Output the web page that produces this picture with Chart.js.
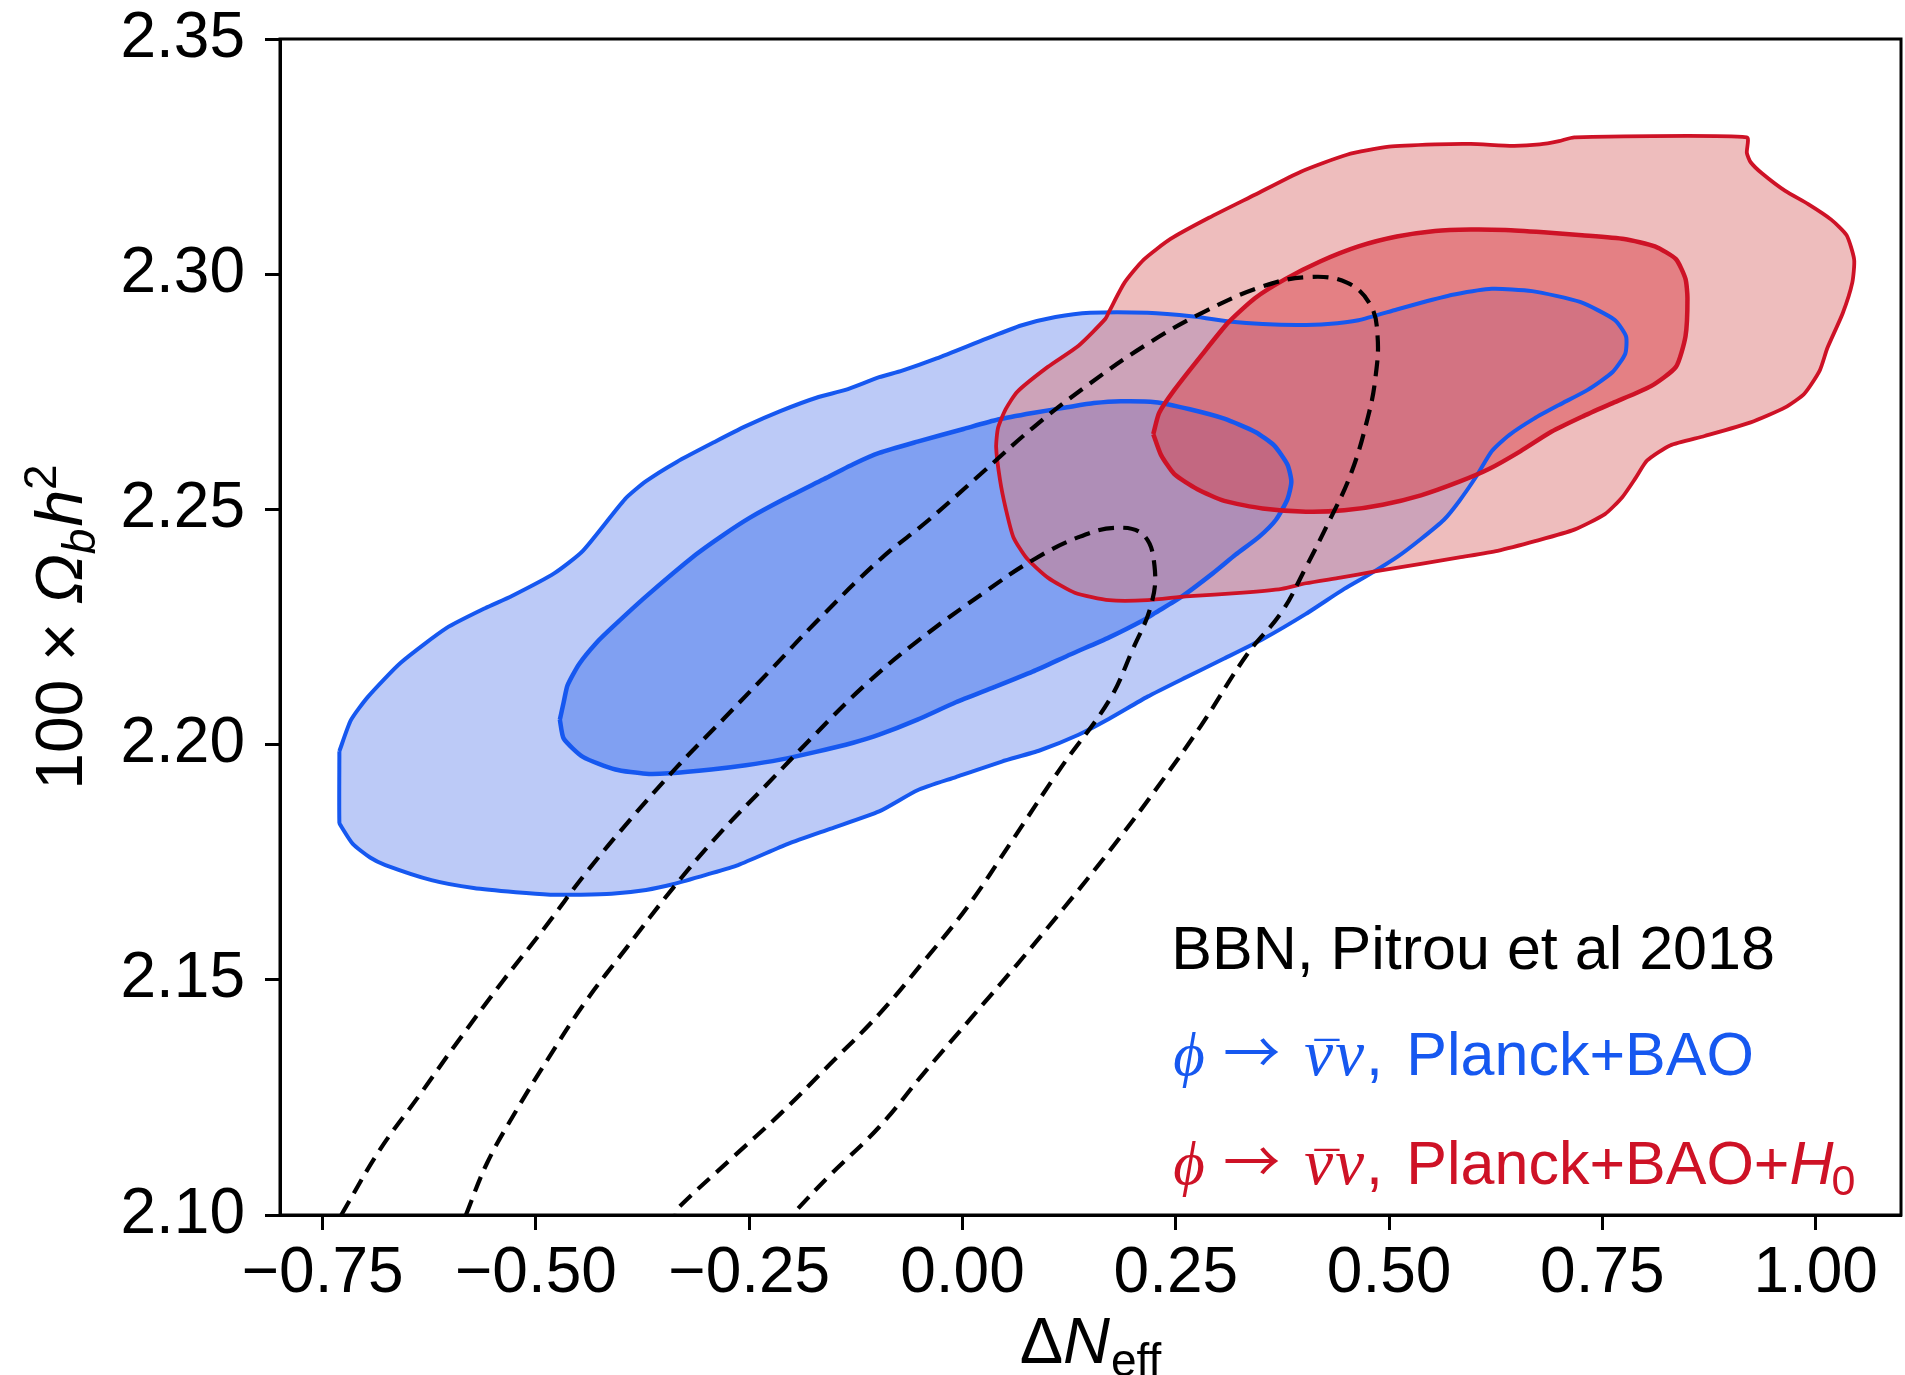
<!DOCTYPE html>
<html>
<head>
<meta charset="utf-8">
<script src="https://cdn.jsdelivr.net/npm/chart.js@4.4.1/dist/chart.umd.min.js"></script>
<style>
html,body{margin:0;padding:0;background:#fff;}
#wrap{width:1905px;height:1375px;position:relative;}
</style>
</head>
<body>
<div id="wrap"><canvas id="c" width="1905" height="1375"></canvas></div>
<script>
// ---- axis ticks ----
const xTicks = [-0.75, -0.50, -0.25, 0.00, 0.25, 0.50, 0.75, 1.00];
const yTicks = [2.10, 2.15, 2.20, 2.25, 2.30, 2.35];

// ---- Planck+BAO (blue) 68% / 95% contours ----
const blueOuter = [[-0.7304,2.1986],[-0.7169,2.2052],[-0.6967,2.2102],[-0.6585,2.2174],[-0.6046,2.2248],[-0.5596,2.2290],[-0.5282,2.2316],[-0.4787,2.2364],[-0.4450,2.2412],[-0.3956,2.2522],[-0.3709,2.2560],[-0.3349,2.2601],[-0.2900,2.2644],[-0.2540,2.2677],[-0.2136,2.2709],[-0.1687,2.2739],[-0.1372,2.2754],[-0.0976,2.2781],[-0.0707,2.2795],[-0.0303,2.2821],[0.0281,2.2863],[0.0686,2.2891],[0.1090,2.2909],[0.1495,2.2918],[0.2169,2.2918],[0.2708,2.2910],[0.3157,2.2899],[0.3517,2.2894],[0.3921,2.2892],[0.4281,2.2894],[0.4641,2.2902],[0.5090,2.2925],[0.5449,2.2943],[0.5764,2.2957],[0.6205,2.2969],[0.6676,2.2964],[0.7238,2.2941],[0.7643,2.2903],[0.7777,2.2868],[0.7768,2.2831],[0.7620,2.2792],[0.7328,2.2754],[0.6991,2.2722],[0.6699,2.2693],[0.6407,2.2658],[0.6205,2.2624],[0.6025,2.2571],[0.5823,2.2518],[0.5643,2.2478],[0.5373,2.2437],[0.5104,2.2400],[0.4789,2.2364],[0.4474,2.2331],[0.4025,2.2278],[0.3517,2.2224],[0.3067,2.2183],[0.2618,2.2143],[0.2169,2.2102],[0.1719,2.2055],[0.1360,2.2021],[0.0910,2.1988],[0.0461,2.1964],[-0.0078,2.1931],[-0.0528,2.1903],[-0.0977,2.1858],[-0.1552,2.1821],[-0.2046,2.1789],[-0.2630,2.1744],[-0.2990,2.1724],[-0.3394,2.1703],[-0.3709,2.1691],[-0.4113,2.1683],[-0.4473,2.1681],[-0.4832,2.1681],[-0.5237,2.1686],[-0.5731,2.1695],[-0.6225,2.1712],[-0.6765,2.1744],[-0.6944,2.1760],[-0.7147,2.1789],[-0.7282,2.1826],[-0.7304,2.1834]];
const blueInner = [[-0.4720,2.2053],[-0.4675,2.2090],[-0.4630,2.2126],[-0.4495,2.2171],[-0.4293,2.2216],[-0.4113,2.2248],[-0.3709,2.2315],[-0.3125,2.2404],[-0.2810,2.2445],[-0.2496,2.2482],[-0.2091,2.2522],[-0.1642,2.2563],[-0.1282,2.2596],[-0.0976,2.2620],[-0.0528,2.2644],[0.0012,2.2671],[0.0416,2.2691],[0.0821,2.2705],[0.1225,2.2717],[0.1540,2.2726],[0.1854,2.2730],[0.2259,2.2728],[0.2663,2.2713],[0.3068,2.2693],[0.3427,2.2665],[0.3652,2.2636],[0.3809,2.2595],[0.3854,2.2559],[0.3809,2.2522],[0.3674,2.2478],[0.3472,2.2441],[0.3202,2.2404],[0.2933,2.2364],[0.2573,2.2315],[0.2259,2.2280],[0.2124,2.2265],[0.1719,2.2228],[0.1270,2.2192],[0.0821,2.2155],[0.0371,2.2122],[-0.0078,2.2090],[-0.0528,2.2053],[-0.0977,2.2021],[-0.1282,2.2004],[-0.1731,2.1984],[-0.2136,2.1968],[-0.2540,2.1956],[-0.2945,2.1947],[-0.3439,2.1939],[-0.3709,2.1938],[-0.4068,2.1947],[-0.4450,2.1974],[-0.4675,2.2013]];

// ---- Planck+BAO+H0 (red) 68% / 95% contours ----
const redOuter = [[0.1719,2.2921],[0.1899,2.2982],[0.2124,2.3031],[0.2438,2.3075],[0.2888,2.3120],[0.3427,2.3169],[0.3966,2.3218],[0.4506,2.3254],[0.5000,2.3271],[0.5539,2.3276],[0.5957,2.3277],[0.6452,2.3273],[0.6766,2.3276],[0.6991,2.3283],[0.7171,2.3291],[0.9193,2.3291],[0.9193,2.3258],[0.9238,2.3238],[0.9373,2.3214],[0.9643,2.3177],[0.9912,2.3149],[1.0182,2.3116],[1.0362,2.3083],[1.0451,2.3031],[1.0429,2.2982],[1.0317,2.2917],[1.0137,2.2843],[1.0047,2.2795],[0.9867,2.2746],[0.9643,2.2717],[0.9238,2.2685],[0.8699,2.2656],[0.8294,2.2636],[0.8025,2.2604],[0.7890,2.2567],[0.7733,2.2526],[0.7530,2.2490],[0.7171,2.2457],[0.6721,2.2433],[0.6272,2.2412],[0.5823,2.2398],[0.5373,2.2384],[0.4834,2.2368],[0.4429,2.2355],[0.4025,2.2343],[0.3742,2.2331],[0.3292,2.2323],[0.2618,2.2315],[0.2169,2.2307],[0.1719,2.2307],[0.1315,2.2323],[0.1000,2.2355],[0.0753,2.2396],[0.0596,2.2441],[0.0506,2.2502],[0.0439,2.2563],[0.0394,2.2632],[0.0416,2.2673],[0.0506,2.2713],[0.0641,2.2750],[0.1000,2.2803],[0.1360,2.2848],[0.1674,2.2905]];
const redInner = [[0.2236,2.2660],[0.2304,2.2705],[0.2483,2.2754],[0.2798,2.2827],[0.3113,2.2897],[0.3427,2.2949],[0.3787,2.2990],[0.4191,2.3027],[0.4641,2.3059],[0.5090,2.3080],[0.5539,2.3092],[0.5957,2.3095],[0.6362,2.3094],[0.6811,2.3089],[0.7261,2.3083],[0.7755,2.3075],[0.8115,2.3059],[0.8362,2.3032],[0.8474,2.2990],[0.8497,2.2949],[0.8474,2.2868],[0.8362,2.2803],[0.8070,2.2762],[0.7620,2.2726],[0.7261,2.2697],[0.6901,2.2665],[0.6542,2.2624],[0.6182,2.2587],[0.5823,2.2559],[0.5373,2.2530],[0.4924,2.2510],[0.4474,2.2498],[0.4025,2.2495],[0.3517,2.2502],[0.3068,2.2518],[0.2753,2.2543],[0.2483,2.2575],[0.2326,2.2616]];

// ---- BBN (Pitrou et al 2018) dashed contours ----
const bbnOuter = [[-0.7282,2.1000],[-0.6832,2.1138],[-0.6360,2.1256],[-0.5911,2.1370],[-0.5394,2.1496],[-0.4900,2.1610],[-0.4428,2.1724],[-0.3888,2.1842],[-0.3349,2.1952],[-0.2788,2.2057],[-0.2226,2.2163],[-0.1731,2.2258],[-0.0976,2.2392],[-0.0393,2.2478],[0.0236,2.2579],[0.0821,2.2673],[0.1450,2.2762],[0.2169,2.2852],[0.2843,2.2921],[0.3517,2.2974],[0.4056,2.2994],[0.4506,2.2982],[0.4780,2.2935],[0.4865,2.2868],[0.4840,2.2780],[0.4753,2.2697],[0.4551,2.2575],[0.4281,2.2469],[0.4011,2.2372],[0.3742,2.2282],[0.3337,2.2192],[0.2798,2.2041],[0.2259,2.1903],[0.1719,2.1773],[0.1180,2.1651],[0.0641,2.1533],[0.0102,2.1419],[-0.0438,2.1305],[-0.0977,2.1187],[-0.1552,2.1085],[-0.2001,2.1000]];
const bbnInner = [[-0.5821,2.1000],[-0.5574,2.1110],[-0.5237,2.1220],[-0.4855,2.1333],[-0.4428,2.1451],[-0.3934,2.1569],[-0.3394,2.1695],[-0.2877,2.1805],[-0.2316,2.1911],[-0.1731,2.2021],[-0.1147,2.2126],[-0.0528,2.2220],[0.0281,2.2327],[0.0821,2.2392],[0.1360,2.2441],[0.1809,2.2461],[0.2124,2.2445],[0.2250,2.2380],[0.2214,2.2299],[0.1989,2.2200],[0.1719,2.2094],[0.1150,2.1950],[0.0560,2.1790],[0.0057,2.1655],[-0.0483,2.1533],[-0.0977,2.1427],[-0.1552,2.1321],[-0.2136,2.1215],[-0.2720,2.1118],[-0.3349,2.1012],[-0.3365,2.1000]];

// ---- styling ----
const BLUE = 'rgb(22,88,240)';
const RED = 'rgb(206,18,38)';
const SANS = '"Liberation Sans", Arial, Helvetica, sans-serif';
const SERIF = '"Liberation Serif", "DejaVu Serif", serif';

const pts = (arr, close) => {
  const d = arr.map(p => ({x: p[0], y: p[1]}));
  if (close) d.push({x: arr[0][0], y: arr[0][1]});
  return d;
};
const fillDs = (arr, color, order) => ({
  data: pts(arr, true), borderWidth: 0, borderColor: 'rgba(0,0,0,0)',
  backgroundColor: color, fill: 'shape', pointRadius: 0, pointHoverRadius: 0,
  tension: 0.2, order
});
const lineDs = (arr, color, width, order, dash, close) => ({
  data: pts(arr, close), borderWidth: width, borderColor: color,
  backgroundColor: 'rgba(0,0,0,0)', fill: false, pointRadius: 0, pointHoverRadius: 0,
  borderDash: dash || [], tension: dash ? 0.4 : 0.2, borderCapStyle: 'butt', borderJoinStyle: 'round', order
});

const fmt = v => (v < 0 ? '\u2212' : '') + Math.abs(v).toFixed(2);

function runsWidth(ctx, runs) {
  let w = 0;
  for (const r of runs) { ctx.font = r.font; w += ctx.measureText(r.t).width + (r.gap || 0); }
  return w;
}
function drawSeq(ctx, x, y, runs) {
  let cx = x;
  for (const r of runs) {
    ctx.font = r.font; ctx.fillStyle = r.color;
    ctx.fillText(r.t, cx, y + (r.dy || 0));
    cx += ctx.measureText(r.t).width + (r.gap || 0);
  }
  return cx;
}
// phi -> nubar nu, <text>
function drawLabel(ctx, x, y, color, text, f) {
  const it = 'italic ' + f + 'px ' + SERIF;
  const itNu = 'italic ' + (f + 4) + 'px ' + SERIF;
  ctx.fillStyle = color;
  ctx.font = it;
  ctx.fillText('\u03D5', x + 2, y);
  ctx.font = '57px "Noto Sans CJK JP", "DejaVu Sans", sans-serif';
  ctx.fillText('\u2192', x + 52, y - 2);
  ctx.font = itNu;
  const nuX = x + 133;
  ctx.fillText('\u03BD', nuX, y);
  const wn = ctx.measureText('\u03BD').width;
  ctx.font = 'italic ' + Math.round(f * 0.8) + 'px ' + SERIF;
  ctx.fillText('\u00AF', nuX + wn * 0.22, y + f * 0.02);
  ctx.font = itNu;
  ctx.fillText('\u03BD', nuX + wn + 2, y);
  ctx.font = f + 'px ' + SANS;
  ctx.fillText(',', nuX + 2 * wn + 4, y);
  return drawSeq(ctx, x + 235, y, [{t: text, font: f + 'px ' + SANS, color}]);
}

const textPlugin = {
  id: 'texts',
  afterDraw(chart) {
    const ctx = chart.ctx;
    const {left, right, top, bottom} = chart.chartArea;
    const sx = chart.scales.x, sy = chart.scales.y;
    ctx.save();
    ctx.strokeStyle = '#000'; ctx.lineWidth = 3;
    ctx.strokeRect(left, top, right - left, bottom - top);
    ctx.textBaseline = 'alphabetic'; ctx.textAlign = 'left';

    const f = 61;
    const lx = sx.getPixelForValue(0.2447);
    drawSeq(ctx, lx, sy.getPixelForValue(2.1523), [{t: 'BBN, Pitrou et al 2018', font: f + 'px ' + SANS, color: '#000'}]);
    drawLabel(ctx, lx, sy.getPixelForValue(2.1298), BLUE, 'Planck+BAO', f);
    const yR = sy.getPixelForValue(2.1065);
    const endR = drawLabel(ctx, lx, yR, RED, 'Planck+BAO+', f);
    drawSeq(ctx, endR, yR, [
      {t: 'H', font: 'italic ' + f + 'px ' + SANS, color: RED, gap: -2},
      {t: '0', font: Math.round(f * 0.7) + 'px ' + SANS, color: RED, dy: 11}
    ]);

    // x axis title
    const xr = [
      {t: '\u0394', font: '65px ' + SANS, color: '#000'},
      {t: 'N', font: 'italic 65px ' + SANS, color: '#000', gap: 1},
      {t: 'eff', font: '46px ' + SANS, color: '#000', dy: 13}
    ];
    const xw = runsWidth(ctx, xr);
    drawSeq(ctx, (left + right) / 2 - xw / 2, 1363, xr);

    // y axis title (rotated)
    const yr = [
      {t: '100 \u00D7 ', font: '66px ' + SANS, color: '#000'},
      {t: '\u03A9', font: 'italic 66px ' + SANS, color: '#000'},
      {t: 'b', font: 'italic 46px ' + SANS, color: '#000', dy: 13, gap: 2},
      {t: 'h', font: 'italic 66px ' + SANS, color: '#000'},
      {t: '2', font: '46px ' + SANS, color: '#000', dy: -26}
    ];
    const yw = runsWidth(ctx, yr);
    ctx.translate(82, (top + bottom) / 2);
    ctx.rotate(-Math.PI / 2);
    drawSeq(ctx, -yw / 2, 0, yr);
    ctx.restore();
  }
};

new Chart(document.getElementById('c'), {
  type: 'line',
  data: {
    datasets: [
      fillDs(blueOuter, 'rgb(188,202,247)', 20),
      fillDs(blueInner, 'rgb(128,160,242)', 19),
      fillDs(redOuter, 'rgba(222,123,123,0.5)', 18),
      fillDs(redInner, 'rgba(217,62,72,0.48)', 17),
      lineDs(blueOuter, BLUE, 4, 16, null, true),
      lineDs(blueInner, BLUE, 4.5, 15, null, true),
      lineDs(redOuter, RED, 3.8, 14, null, true),
      lineDs(redInner, RED, 4.5, 13, null, true),
      lineDs(bbnOuter, '#000', 4.2, 12, [16, 9], false),
      lineDs(bbnInner, '#000', 4.2, 11, [16, 9], false)
    ]
  },
  options: {
    responsive: false,
    animation: false,
    events: [],
    layout: {padding: {top: 39, right: 4, left: 0, bottom: 0}},
    plugins: {legend: {display: false}, tooltip: {enabled: false}, title: {display: false}},
    scales: {
      x: {
        type: 'linear', min: -0.8, max: 1.1,
        afterBuildTicks: s => { s.ticks = xTicks.map(v => ({value: v})); },
        afterFit: s => { s.height = 160; s.paddingLeft = 0; s.paddingRight = 0; },
        ticks: {callback: v => fmt(v), font: {family: SANS, size: 64}, color: '#000', padding: 6, maxRotation: 0, autoSkip: false},
        grid: {display: true, drawOnChartArea: false, drawTicks: true, tickLength: 15, tickWidth: 3, tickColor: '#000'},
        border: {display: true, color: '#000', width: 3}
      },
      y: {
        type: 'linear', min: 2.10, max: 2.35,
        afterBuildTicks: s => { s.ticks = yTicks.map(v => ({value: v})); },
        afterFit: s => { s.width = 280; s.paddingTop = 0; s.paddingBottom = 0; },
        ticks: {callback: v => v.toFixed(2), font: {family: SANS, size: 64}, color: '#000', padding: 20, autoSkip: false},
        grid: {display: true, drawOnChartArea: false, drawTicks: true, tickLength: 15, tickWidth: 3, tickColor: '#000'},
        border: {display: true, color: '#000', width: 3}
      }
    }
  },
  plugins: [textPlugin]
});
</script>
</body>
</html>
